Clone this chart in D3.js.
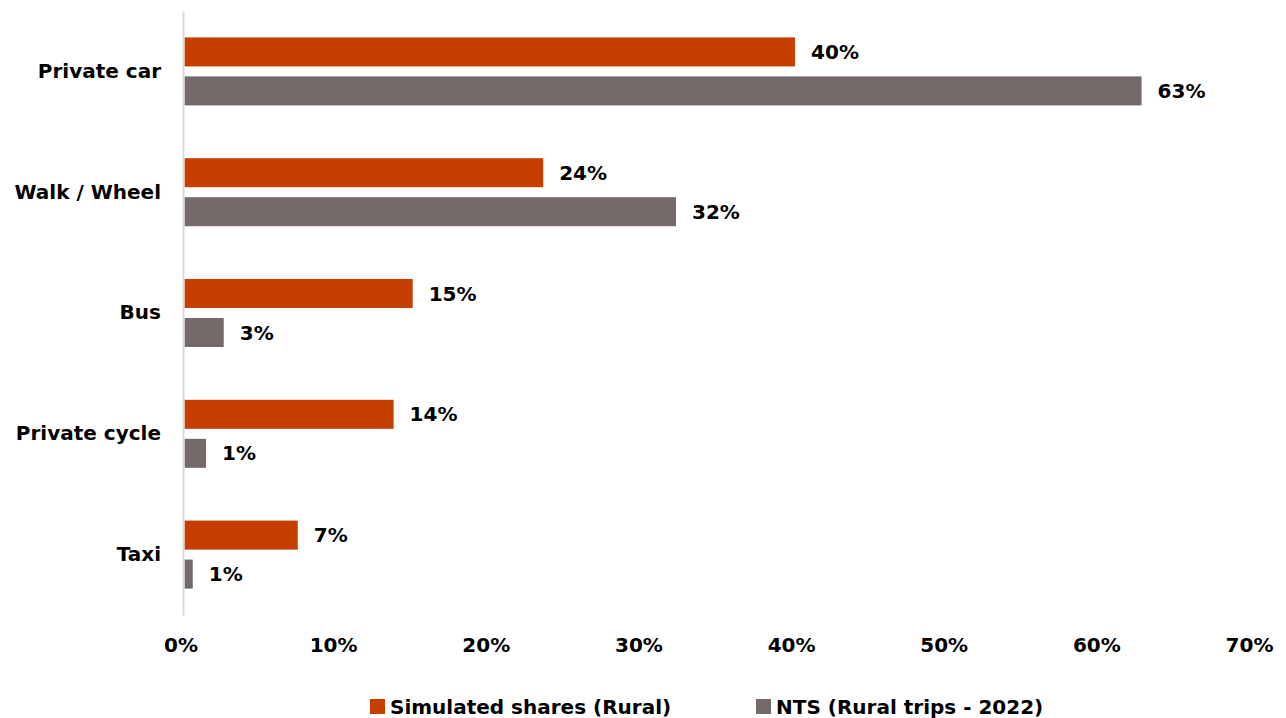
<!DOCTYPE html>
<html><head><meta charset="utf-8">
<script src="https://cdn.jsdelivr.net/npm/d3@7"></script>
<style>
html,body{margin:0;padding:0;background:#fff;}
svg text{font-family:"DejaVu Sans",sans-serif;font-weight:bold;fill:#000;}
</style></head>
<body>
<svg id="chart" width="1286" height="718"></svg>
<script>
const categories = ["Private car", "Walk / Wheel", "Bus", "Private cycle", "Taxi"];
const seriesNames = ["Simulated shares (Rural)", "NTS (Rural trips - 2022)"];
const simulated = [40.0, 23.5, 14.95, 13.7, 7.42];
const nts = [62.7, 32.2, 2.57, 1.41, 0.54];
const xTicks = [0, 10, 20, 30, 40, 50, 60, 70];
const colors = ["#C43F00", "#746A69"];

const svg = d3.select("#chart");
const fs = 20;
const x = d3.scaleLinear().domain([0, 70]).range([184.5, 1253]);
const y = d3.scaleBand().domain(categories).range([11, 615]).paddingInner(0.437).paddingOuter(0.2185);
const ySub = d3.scaleBand().domain([0, 1]).range([0, y.bandwidth()]).paddingInner(0.256).paddingOuter(0);

const rows = categories.map((c, i) => ({cat: c, vals: [simulated[i], nts[i]]}));

const g = svg.append("g");
const grp = g.selectAll("g.row").data(rows).join("g")
  .attr("transform", d => `translate(0,${y(d.cat)})`);
grp.selectAll("rect").data(d => d.vals.map((v, k) => ({v, k}))).join("rect")
  .attr("x", x(0)).attr("y", d => ySub(d.k))
  .attr("width", d => x(d.v) - x(0)).attr("height", ySub.bandwidth())
  .attr("fill", d => colors[d.k]);
grp.selectAll("text.val").data(d => d.vals.map((v, k) => ({v, k}))).join("text")
  .attr("class", "val")
  .attr("x", d => x(d.v) + 16).attr("y", d => ySub(d.k) + ySub.bandwidth() / 2)
  .attr("dy", "0.36em").style("font-size", fs + "px")
  .text(d => Math.round(d.v) + "%");

// axis line
const yAxis = d3.axisLeft(y).tickSize(0).tickPadding(22);
const ya = svg.append("g").attr("transform", `translate(${x(0) - 1.5},0)`).call(yAxis);
ya.select(".domain").attr("stroke", "#d9d9d9").attr("stroke-width", 2);
ya.selectAll("text").style("font-size", fs + "px").attr("fill", "#000");

// x tick labels (no axis line)
const xAxis = d3.axisBottom(x).tickValues(xTicks).tickSize(0).tickPadding(0).tickFormat(d => d + "%");
const xa = svg.append("g").attr("transform", `translate(-4,638)`).call(xAxis);
xa.select(".domain").remove();
xa.selectAll("text").style("font-size", fs + "px").attr("fill", "#000");

// legend
const legendX = [370, 756];
const lg = svg.selectAll("g.leg").data(seriesNames).join("g")
  .attr("transform", (d, i) => `translate(${legendX[i]},699)`);
lg.append("rect").attr("width", 15).attr("height", 15).attr("fill", (d, i) => colors[i]);
lg.append("text").attr("x", 20).attr("y", 7.5).attr("dy", "0.36em").style("font-size", fs + "px").text(d => d);
</script>
</body></html>
